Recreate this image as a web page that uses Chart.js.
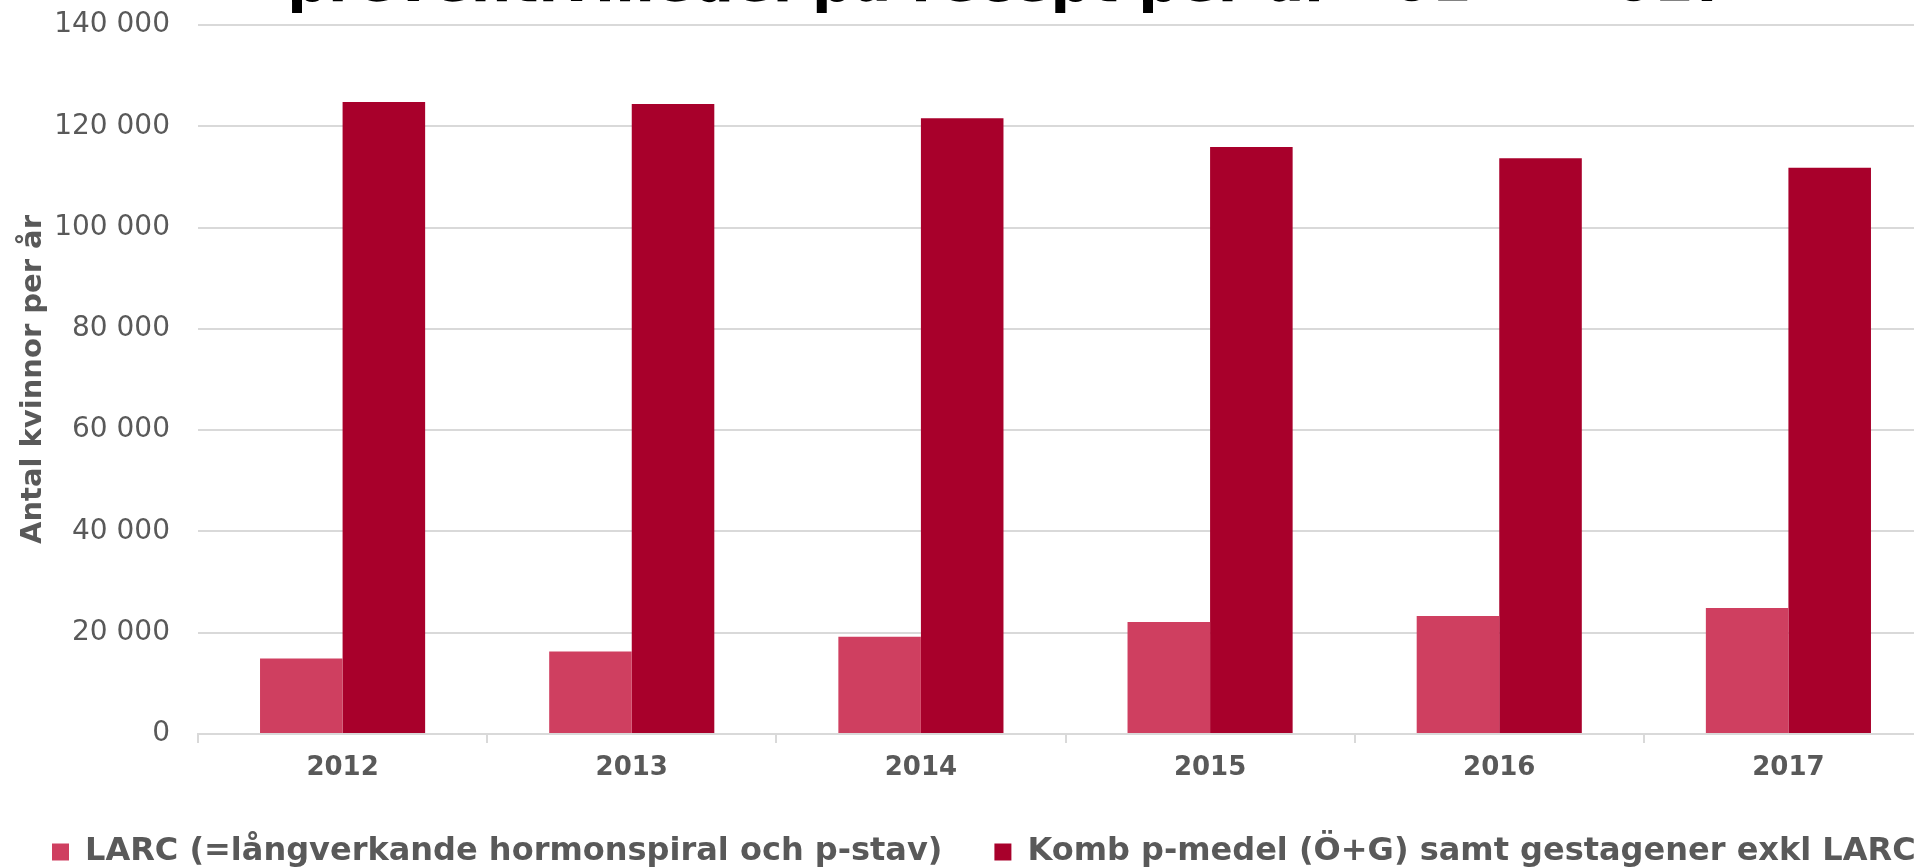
<!DOCTYPE html>
<html lang="sv">
<head>
<meta charset="utf-8">
<title>Preventivmedel på recept 2012 - 2017</title>
<script src="https://cdn.jsdelivr.net/npm/chart.js@4.4.1/dist/chart.umd.min.js"></script>
<style>
  html, body { margin: 0; padding: 0; background: #fff; overflow: hidden; }
  body { width: 1914px; height: 868px; position: relative; }
  #wrap { position: absolute; left: 0; top: -35px; width: 2020px; height: 913px; }
</style>
</head>
<body>
<div id="wrap"><canvas id="contraceptiveChart"></canvas></div>
<script>
const years = ['2012', '2013', '2014', '2015', '2016', '2017'];
const larcLabel = 'LARC (=långverkande hormonspiral och p-stav)';
const kombLabel = 'Komb p-medel (Ö+G) samt gestagener exkl LARC';
const larcValues = [14900, 16300, 19200, 22100, 23300, 24900];
const kombValues = [124800, 124400, 121600, 115900, 113700, 111800];
const yTicks = [0, 20000, 40000, 60000, 80000, 100000, 120000, 140000];

function spaced(n) {
  return String(n).replace(/\B(?=(\d{3})+(?!\d))/g, ' ');
}

document.addEventListener('DOMContentLoaded', function () {
  const ctx = document.getElementById('contraceptiveChart').getContext('2d');
  Chart.defaults.font.family = '"DejaVu Sans", Verdana, sans-serif';
  Chart.defaults.color = '#595959';

  const chart = new Chart(ctx, {
    type: 'bar',
    data: {
      labels: years,
      datasets: [{
        label: larcLabel,
        data: larcValues,
        backgroundColor: '#cf3f60',
        borderWidth: 0,
        categoryPercentage: 0.571,
        barPercentage: 1.0
      }, {
        label: kombLabel,
        data: kombValues,
        backgroundColor: '#a8002b',
        borderWidth: 0,
        categoryPercentage: 0.571,
        barPercentage: 1.0
      }]
    },
    options: {
      responsive: true,
      maintainAspectRatio: false,
      animation: false,
      layout: { padding: 0 },
      plugins: {
        title: {
          display: true,
          text: 'preventivmedel på recept per år 2012 - 2017',
          color: '#000',
          font: { size: 57, weight: 'bold', lineHeight: 0.737 },
          padding: { top: 0, bottom: 18 }
        },
        legend: {
          position: 'bottom',
          align: 'start',
          labels: {
            boxWidth: 17,
            boxHeight: 17,
            padding: 52,
            color: '#595959',
            font: { size: 32, weight: 'bold' }
          }
        },
        tooltip: { enabled: false }
      },
      scales: {
        x: {
          // fixed band height so the plot bottom lands where the original's does
          afterFit: function (scale) { scale.height = 50; },
          grid: {
            drawOnChartArea: false,
            drawTicks: true,
            tickLength: 9,
            color: '#d9d9d9',
            lineWidth: 2
          },
          border: { color: '#d9d9d9', width: 2 },
          ticks: {
            padding: 22,
            color: '#595959',
            font: { size: 26, weight: 'bold', lineHeight: 0.24 }
          }
        },
        y: {
          min: 0,
          max: 140000,
          afterFit: function (scale) { scale.width = 198; },
          afterBuildTicks: function (scale) {
            scale.ticks = yTicks.map(function (v) { return { value: v }; });
          },
          grid: { color: '#d9d9d9', lineWidth: 2, drawTicks: false },
          border: { display: false },
          ticks: {
            padding: 28,
            color: '#595959',
            font: { size: 28 },
            callback: function (value) { return spaced(value); }
          },
          title: {
            display: true,
            text: 'Antal kvinnor per år',
            color: '#595959',
            font: { size: 29, weight: 'bold' },
            padding: { top: 16, bottom: 4 }
          }
        },
        // empty right-hand axis, only reserves the space the original chart had past the window edge
        yRight: {
          position: 'right',
          display: true,
          afterFit: function (scale) { scale.width = 87; },
          grid: { display: false },
          border: { display: false },
          ticks: { display: false }
        }
      }
    }
  });
});
</script>
</body>
</html>
